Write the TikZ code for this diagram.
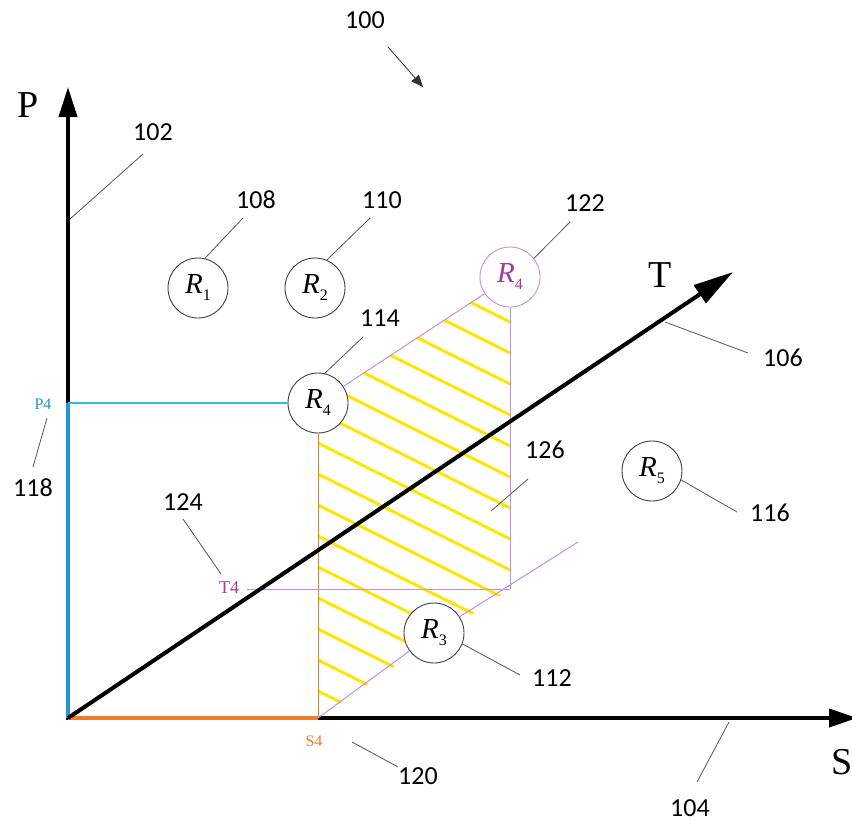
\documentclass[tikz,border=0pt]{standalone}
\usepackage{fontspec}
\setmainfont{Liberation Serif}
\newfontfamily\numfont{Carlito}
\usetikzlibrary{arrows.meta}
\definecolor{cyanA}{RGB}{30,150,215}
\definecolor{cyanB}{RGB}{50,185,230}
\definecolor{orangeA}{RGB}{240,122,45}
\definecolor{violetA}{RGB}{195,145,220}
\definecolor{violetT}{RGB}{155,60,160}
\definecolor{hatchY}{RGB}{255,230,0}
\definecolor{leadG}{RGB}{85,85,85}
\newcommand{\regname}[1]{\itshape R\raisebox{-7pt}{\upshape\fontsize{16}{16}\selectfont #1}}
\tikzset{
  num/.style={font=\numfont\fontsize{26}{30}\selectfont, inner sep=0pt},
  axislbl/.style={font=\fontsize{38}{44}\selectfont, inner sep=0pt},
  smalllbl/.style={font=\fontsize{16}{18}\selectfont, inner sep=0pt},
  region/.style={circle, draw=black!75, line width=0.9pt, fill=white, minimum size=60pt, inner sep=0pt, font=\fontsize{29}{32}\selectfont},
  leader/.style={draw=leadG, line width=0.8pt},
  axisline/.style={line width=4pt},
  violetline/.style={draw=violetA, line width=1pt},
}
\begin{document}
\begin{tikzpicture}[x=1pt,y=-1pt]
\useasboundingbox (0,0) rectangle (852,822);
\clip (0,0) rectangle (852,822);

% key points
\coordinate (O) at (68,718);
\coordinate (Obot) at (68,720);
\coordinate (Oleft) at (66,718);
\coordinate (Ptip) at (68,87);
\coordinate (Stip) at (857,718);
\coordinate (Ttip) at (733,272);
\coordinate (S4p) at (318,718);
\coordinate (P4p) at (68,403);
\coordinate (Q) at (510,589);
\coordinate (Dend) at (578,542);
\coordinate (T4s) at (247,589);

% hatching
\begin{scope}
  \clip (318,718) -- (318,403) -- (510,277) -- (510,589) -- cycle;
  \foreach \k in {-10,...,9}
    \draw[hatchY, line width=3pt] (300,{434+31*\k}) -- (540,{554+31*\k});
\end{scope}

% region circles
\node[region] (R1) at (198,288) {\regname{1}};
\node[region] (R2) at (315,288) {\regname{2}};
\node[region] (R4a) at (318,403) {\regname{4}};
\node[region, draw=violetA, text=violetT] (R4b) at (510,277) {\regname{4}};
\node[region] (R3) at (434,633) {\regname{3}};
\node[region] (R5) at (652,471) {\regname{5}};

% axes
\draw[axisline, -{Triangle[length=28pt,width=18pt]}] (Oleft) -- (Stip);
\draw[axisline, -{Triangle[length=30pt,width=18pt]}] (Obot) -- (Ptip);
\draw[cyanA, line width=4pt] (O) -- (P4p);
\draw[orangeA, line width=4pt] (O) -- (S4p);

% construction lines
\draw[cyanB, line width=1.2pt] (P4p) -- (R4a);
\draw[orangeA, line width=1pt] (S4p) -- (R4a);
\draw[violetline] (R4a) -- (R4b);
\draw[violetline] (R4b) -- (Q);
\draw[violetline] (T4s) -- (Q);
\draw[violetline] (S4p) -- (R3);
\draw[violetline] (R3) -- (Dend);

% T axis
\draw[axisline, -{Triangle[length=40pt,width=21pt]}] (O) -- (Ttip);

% axis labels
\node[axislbl] (Plbl) at (28,105) {P};
\node[axislbl] (Tlbl) at (660,275) {T};
\node[axislbl] (Slbl) at (842,762) {S};
\node[smalllbl, text=cyanA] (P4) at (43,404) {P4};
\node[smalllbl, text=violetT, font=\fontsize{18}{20}\selectfont] (T4) at (229,588) {T4};
\node[smalllbl, text=orangeA] (S4) at (314,741) {S4};

% reference numerals
\node[num] (n100) at (365,20) {100};
\node[num] (n102) at (153,132) {102};
\node[num] (n108) at (256,200) {108};
\node[num] (n110) at (382,200) {110};
\node[num] (n122) at (585,203) {122};
\node[num] (n114) at (380,318) {114};
\node[num] (n106) at (783,358) {106};
\node[num] (n126) at (545,450) {126};
\node[num] (n116) at (770,513) {116};
\node[num] (n124) at (183,502) {124};
\node[num] (n118) at (33,488) {118};
\node[num] (n112) at (552,678) {112};
\node[num] (n120) at (418,776) {120};
\node[num] (n104) at (690,808) {104};

% leader coordinates
\coordinate (a100s) at (388,47);   \coordinate (a100e) at (423,87);
\coordinate (l102s) at (143,154);  \coordinate (l102e) at (70,219);
\coordinate (l108s) at (243,218);
\coordinate (l110s) at (370,218);
\coordinate (l122s) at (570,222);
\coordinate (l114s) at (363,337);
\coordinate (l106s) at (748,353);  \coordinate (l106e) at (665,322);
\coordinate (l126s) at (528,479);  \coordinate (l126e) at (491,511);
\coordinate (l116s) at (737,512);
\coordinate (l124s) at (183,519);  \coordinate (l124e) at (221,574);
\coordinate (l118s) at (33,467);   \coordinate (l118e) at (47,418);
\coordinate (l112s) at (520,675);
\coordinate (l120s) at (398,767);  \coordinate (l120e) at (352,742);
\coordinate (l104s) at (697,782);  \coordinate (l104e) at (729,722);

% leaders
\draw[leader, draw=black!80, -{Triangle[length=12pt,width=10pt]}] (a100s) -- (a100e);
\draw[leader] (l102s) -- (l102e);
\draw[leader] (l108s) -- (R1.77);
\draw[leader] (l110s) -- (R2.67);
\draw[leader] (l122s) -- (R4b.38);
\draw[leader] (l114s) -- (R4a.77);
\draw[leader] (l106s) -- (l106e);
\draw[leader] (l126s) -- (l126e);
\draw[leader] (l116s) -- (R5.-17);
\draw[leader] (l124s) -- (l124e);
\draw[leader] (l118s) -- (l118e);
\draw[leader] (l112s) -- (R3.-21);
\draw[leader] (l120s) -- (l120e);
\draw[leader] (l104s) -- (l104e);
\end{tikzpicture}
\end{document}
